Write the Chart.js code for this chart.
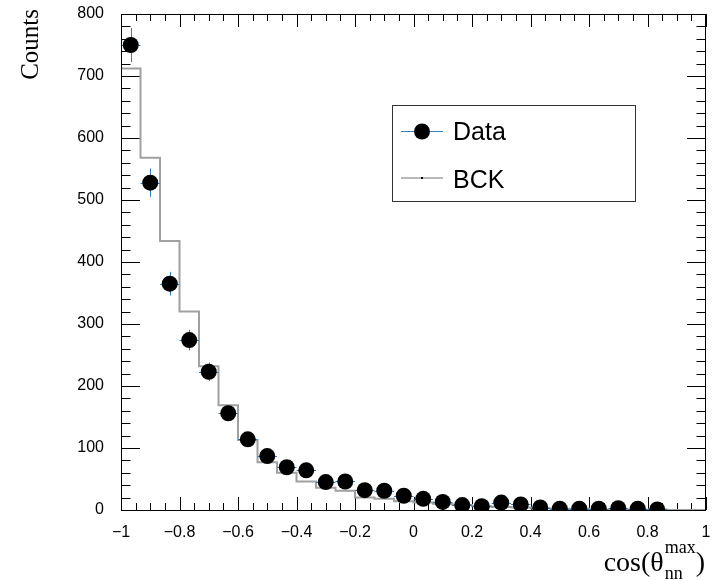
<!DOCTYPE html>
<html>
<head>
<meta charset="utf-8">
<script src="https://cdn.jsdelivr.net/npm/chart.js@4.4.1/dist/chart.umd.min.js"></script>
<style>
  html, body { margin: 0; padding: 0; background: #fff; }
</style>
</head>
<body>
<canvas id="grafico" width="714" height="581"></canvas>
<script>
// histogram: 30 bins from -1 to 1
const binWidth = 2 / 30;
const binCenters = [-0.9667, -0.9, -0.8333, -0.7667, -0.7, -0.6333, -0.5667, -0.5, -0.4333, -0.3667,
                    -0.3, -0.2333, -0.1667, -0.1, -0.0333, 0.0333, 0.1, 0.1667, 0.2333, 0.3,
                    0.3667, 0.4333, 0.5, 0.5667, 0.6333, 0.7, 0.7667, 0.8333, 0.9, 0.9667];
const dataCounts = [750, 528, 365, 274, 223, 156, 114, 87, 69, 64,
                    45, 46, 32, 31, 23, 18, 13, 8, 6, 12,
                    9, 4, 2, 2, 2, 3, 2, 1, null, null];
const bckCounts = [712, 568, 434, 320, 232, 169, 113, 77, 60, 46,
                   36, 31, 20, 18, 14, 12, 10, 8, 6, 5,
                   4, 3, 2, 2, 1, 1, 1, 1, 0, 0];
const xTicks = [-1, -0.8, -0.6, -0.4, -0.2, 0, 0.2, 0.4, 0.6, 0.8, 1];
const yTicks = [0, 100, 200, 300, 400, 500, 600, 700, 800];

const errColor = '#2f80bd';
const bckColor = '#a0a0a0';

const dataPoints = [];
binCenters.forEach((c, i) => {
  if (dataCounts[i] !== null) dataPoints.push({ x: c, y: dataCounts[i] });
});
// step line goes through the low edge of each bin
const bckPoints = binCenters.map((c, i) => ({ x: Math.round((c - binWidth / 2) * 1e4) / 1e4, y: bckCounts[i] }));
bckPoints.push({ x: 1, y: bckCounts[bckCounts.length - 1] });

function linea(ctx, x1, y1, x2, y2) {
  ctx.beginPath();
  ctx.moveTo(x1, y1);
  ctx.lineTo(x2, y2);
  ctx.stroke();
}

// ROOT style ticks inside the frame, on all four sides
const marco = {
  id: 'marco',
  beforeDatasetsDraw(chart) {
    const { ctx, chartArea: a, scales: { x, y } } = chart;
    ctx.save();
    ctx.strokeStyle = '#000';
    ctx.lineWidth = 1;
    for (let i = 0; i <= 40; i++) {
      const px = Math.round(x.getPixelForValue(-1 + i * 0.05)) + 0.5;
      const len = i % 4 === 0 ? 13 : 7;
      linea(ctx, px, a.bottom, px, a.bottom - len);
      linea(ctx, px, a.top, px, a.top + len);
    }
    for (let i = 0; i <= 40; i++) {
      const py = Math.round(y.getPixelForValue(i * 20)) + 0.5;
      const len = i % 5 === 0 ? 19 : 9.5;
      linea(ctx, a.left, py, a.left + len, py);
      linea(ctx, a.right, py, a.right - len, py);
    }
    ctx.restore();
  },
  beforeDatasetDraw(chart, args) {
    if (args.index !== 0) return;
    const { ctx, scales: { x, y } } = chart;
    ctx.save();
    ctx.strokeStyle = errColor;
    ctx.lineWidth = 1;
    binCenters.forEach((c, i) => {
      const v = dataCounts[i];
      if (v === null) return;
      const err = Math.sqrt(v);
      const px = Math.round(x.getPixelForValue(c)) + 0.5;
      const py = Math.round(y.getPixelForValue(v)) + 0.5;
      linea(ctx, px, y.getPixelForValue(v - err), px, y.getPixelForValue(v + err));
      linea(ctx, x.getPixelForValue(c - binWidth / 2), py, x.getPixelForValue(c + binWidth / 2), py);
    });
    ctx.restore();
  },
  afterDatasetsDraw(chart) {
    const { ctx, chartArea: a } = chart;
    ctx.save();
    ctx.strokeStyle = '#000';
    ctx.lineWidth = 1;
    ctx.strokeRect(Math.round(a.left) + 0.5, Math.round(a.top) + 0.5,
                   Math.round(a.right - a.left) - 1, Math.round(a.bottom - a.top));
    ctx.restore();
  },
  afterDraw(chart) {
    const ctx = chart.ctx;
    ctx.save();
    // legend box
    ctx.strokeStyle = '#333';
    ctx.lineWidth = 1;
    ctx.strokeRect(392.5, 105.5, 243, 96);
    const ds = chart.data.datasets;
    ctx.font = '25px "Liberation Sans", Arial, sans-serif';
    ctx.fillStyle = '#000';
    ctx.textBaseline = 'alphabetic';
    ctx.textAlign = 'left';
    // Data
    ctx.strokeStyle = errColor;
    linea(ctx, 401, 131.5, 443, 131.5);
    ctx.beginPath();
    ctx.arc(422, 131.5, 8, 0, Math.PI * 2);
    ctx.fill();
    ctx.fillText(ds[0].label, 453, 140);
    // BCK
    ctx.strokeStyle = bckColor;
    ctx.lineWidth = 1.5;
    linea(ctx, 401, 178, 443, 178);
    ctx.fillRect(421, 177, 2, 2);
    ctx.fillText(ds[1].label, 453, 188);

    // y title
    ctx.font = '25px "Liberation Serif", "Times New Roman", serif';
    ctx.save();
    ctx.translate(38, 9);
    ctx.rotate(-Math.PI / 2);
    ctx.textAlign = 'right';
    ctx.fillText('Counts', 0, 0);
    ctx.restore();

    // x title: cos(θ^max_nn)
    const big = '28px "Liberation Serif", "Times New Roman", serif';
    const small = '18px "Liberation Serif", "Times New Roman", serif';
    ctx.font = big;
    const w1 = ctx.measureText('cos(θ').width;
    const w3 = ctx.measureText(')').width;
    ctx.font = small;
    const w2 = Math.max(ctx.measureText('max').width, ctx.measureText('nn').width);
    let xs = 705 - w3 - w2 - w1 - 1;
    ctx.font = big;
    ctx.fillText('cos(θ', xs, 571);
    xs += w1 + 1;
    ctx.font = small;
    ctx.fillText('max', xs, 553);
    ctx.fillText('nn', xs, 579);
    xs += w2;
    ctx.font = big;
    ctx.fillText(')', xs, 571);
    ctx.restore();
  }
};

function fmt(v) {
  const r = Math.round(v * 10) / 10;
  return r < 0 ? '\u2212' + String(-r) : String(r);
}

new Chart(document.getElementById('grafico').getContext('2d'), {
  type: 'scatter',
  data: {
    datasets: [
      {
        label: 'Data',
        data: dataPoints,
        showLine: false,
        pointRadius: 8,
        pointHoverRadius: 8,
        pointBackgroundColor: '#000',
        pointBorderWidth: 0,
        order: 0
      },
      {
        label: 'BCK',
        type: 'line',
        data: bckPoints,
        stepped: 'before',
        borderColor: bckColor,
        borderWidth: 2,
        pointRadius: 0,
        fill: false,
        order: 1
      }
    ]
  },
  options: {
    responsive: false,
    animation: false,
    events: [],
    layout: { padding: { top: 14, right: 2, left: 0, bottom: 0 } },
    plugins: { legend: { display: false }, tooltip: { enabled: false } },
    scales: {
      x: {
        type: 'linear',
        min: -1,
        max: 1,
        grid: { display: false, drawTicks: false },
        border: { display: false },
        afterBuildTicks: s => { s.ticks = xTicks.map(v => ({ value: v })); },
        afterFit: s => { s.height = 71; s.paddingLeft = 0; s.paddingRight = 0; },
        ticks: {
          padding: 13,
          maxRotation: 0,
          autoSkip: false,
          color: '#000',
          font: { family: '"Liberation Sans", Arial, sans-serif', size: 16 },
          callback: v => fmt(v)
        }
      },
      y: {
        min: 0,
        max: 800,
        grid: { display: false, drawTicks: false },
        border: { display: false },
        afterBuildTicks: s => { s.ticks = yTicks.map(v => ({ value: v })); },
        afterFit: s => { s.width = 121; s.paddingTop = 0; s.paddingBottom = 0; },
        ticks: {
          padding: 17,
          color: '#000',
          font: { family: '"Liberation Sans", Arial, sans-serif', size: 16 },
          callback: v => String(v)
        }
      }
    }
  },
  plugins: [marco]
});
</script>
</body>
</html>
